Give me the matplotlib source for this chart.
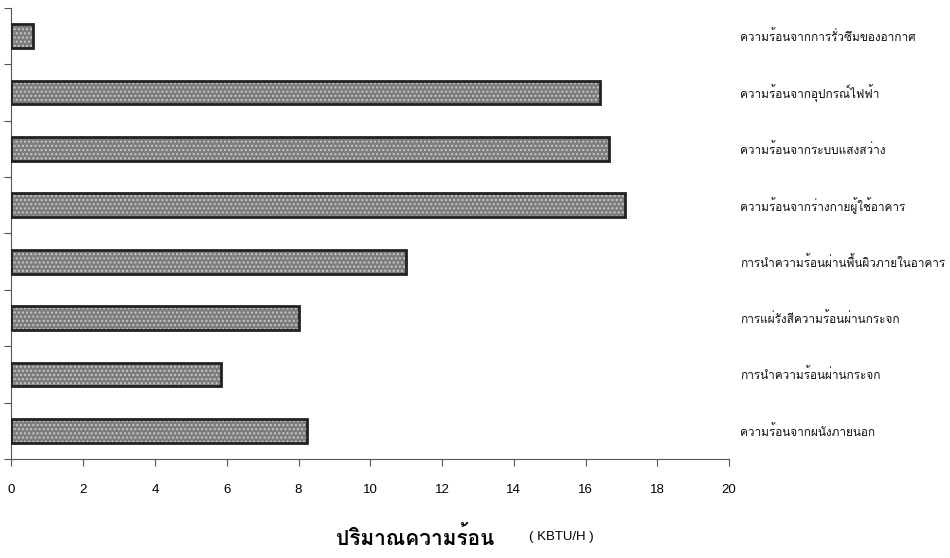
import matplotlib
matplotlib.use('Agg')
import matplotlib.pyplot as plt
import matplotlib.transforms as mtransforms
import numpy as np

# หมวดหมู่ภาระความร้อน (บนลงล่างตามภาพ)
categories = [
    'ความร้อนจากการรั่วซึมของอากาศ',
    'ความร้อนจากอุปกรณ์ไฟฟ้า',
    'ความร้อนจากระบบแสงสว่าง',
    'ความร้อนจากร่างกายผู้ใช้อาคาร',
    'การนำความร้อนผ่านพื้นผิวภายในอาคาร',
    'การแผ่รังสีความร้อนผ่านกระจก',
    'การนำความร้อนผ่านกระจก',
    'ความร้อนจากผนังภายนอก',
]
values = [0.6, 16.4, 16.65, 17.1, 11.0, 8.0, 5.85, 8.25]
xticks = [0, 2, 4, 6, 8, 10, 12, 14, 16, 18, 20]

thai_font = ['Loma', 'DejaVu Sans']
num_font = ['Liberation Sans Narrow', 'Liberation Sans', 'DejaVu Sans']

plt.rcParams['hatch.linewidth'] = 1.0

fig = plt.figure(figsize=(9.5, 5.58), dpi=100)
ax = fig.add_axes([0.0121, 0.1774, 0.7553, 0.8083])

n = len(categories)
ypos = np.arange(n)[::-1]  # บนสุดคือรายการแรก

# พื้นเทา + จุดลายสีอ่อน + ขอบเข้ม
ax.barh(ypos, values, height=0.42, color='#7c7c7c', edgecolor='none', zorder=2)
ax.barh(ypos, values, height=0.42, color='none', edgecolor='#c8c8c8',
        hatch='....', linewidth=0, zorder=3)
ax.barh(ypos, values, height=0.42, color='none', edgecolor='#222222',
        linewidth=2.0, zorder=4)

ax.set_xlim(0, 20)
ax.set_ylim(-0.5, n - 0.5)

ax.spines['top'].set_visible(False)
ax.spines['right'].set_visible(False)
ax.spines['left'].set_color('#555555')
ax.spines['bottom'].set_color('#555555')

ax.set_xticks(xticks)
ax.set_xticklabels([str(v) for v in xticks], family=num_font, fontsize=9.5)
ax.tick_params(axis='x', direction='out', length=5, width=0.8,
               color='#555555', pad=13)

# ขีดแกน y อยู่ระหว่างหมวด
ax.set_yticks(np.arange(-0.5, n, 1.0))
ax.set_yticklabels([])
ax.tick_params(axis='y', direction='out', length=5, width=0.8, color='#555555')

# ป้ายชื่อด้านขวา
trans = mtransforms.blended_transform_factory(fig.transFigure, ax.transData)
for y, lab in zip(ypos, categories):
    ax.text(0.779, y, lab, transform=trans, ha='left', va='center',
            fontsize=8.5, family=thai_font, color='#111111', clip_on=False)

fig.text(0.354, 0.037, 'ปริมาณความร้อน', ha='left', va='center',
         fontsize=15, fontweight='bold', family=thai_font)
fig.text(0.557, 0.037, '( KBTU/H )', ha='left', va='center',
         fontsize=9.5, family=['Liberation Sans', 'DejaVu Sans'])

fig.savefig('out.png', dpi=100)
